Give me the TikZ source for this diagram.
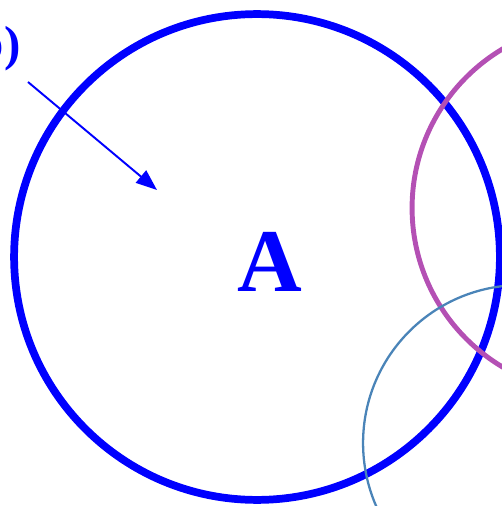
\documentclass[tikz,border=0pt]{standalone}
\usepackage{fontspec}
\setmainfont{Liberation Serif}
\usetikzlibrary{arrows.meta,positioning}
\definecolor{setblue}{HTML}{0000FF}
\definecolor{setpurple}{HTML}{B450B4}
\definecolor{setsteel}{HTML}{4A84B8}
\tikzset{
  setring/.style={circle,draw=#1,inner sep=0pt},
  setlabel/.style={text=setblue,font=\bfseries},
  pointer/.style={-{Triangle[length=4.2mm,width=3.2mm]},line width=1.1pt,draw=setblue},
}
\begin{document}
\begin{tikzpicture}[x=0.02cm,y=-0.02cm]
  \useasboundingbox (0,0) rectangle (502,506);
  \clip (0,0) rectangle (502,506);
  % the sets
  \node[setring=setblue,line width=4.4pt,minimum size=243*0.04cm] (setA) at (257,257) {};
  \node[setring=setpurple,line width=2.8pt,minimum size=185*0.04cm] (setB) at (597,208) {};
  \node[setring=setsteel,line width=1.3pt,minimum size=158*0.04cm] (setC) at (521,443) {};
  \node[setlabel,font=\fontsize{51}{51}\selectfont\bfseries] (labA) at (270,262) {A};
  % cut-off caption with pointer
  \node[setlabel,font=\fontsize{28}{28}\selectfont\bfseries,anchor=east,inner sep=0pt] (capt) at (21,49) {(b)};
  \coordinate (pstart) at (28,82);
  \coordinate (pend) at (157,190);
  \draw[pointer] (pstart) -- (pend);
\end{tikzpicture}
\end{document}
